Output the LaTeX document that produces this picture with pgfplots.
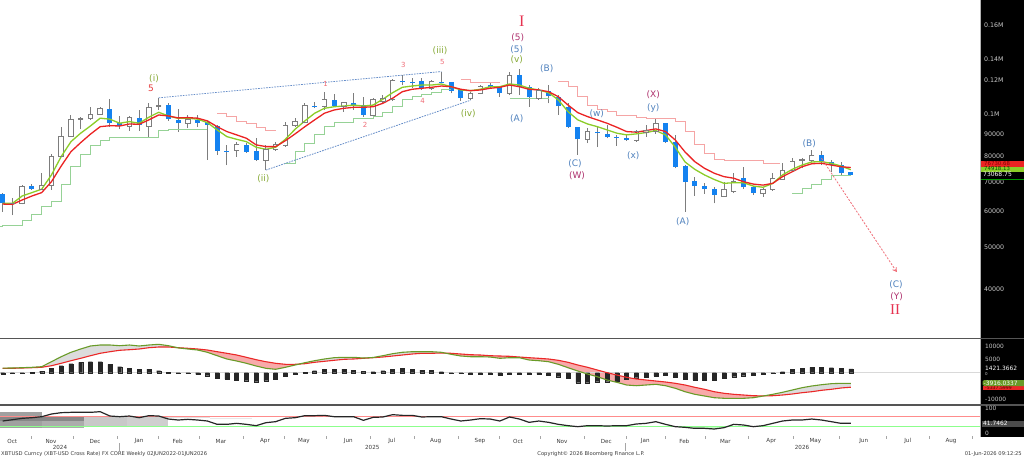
\documentclass[border=0pt]{standalone}
\usepackage{pgfplots}
\pgfplotsset{compat=1.18}
\usepackage{pgfplotstable}
\usetikzlibrary{arrows.meta}
\usepackage{fontspec}
\setmainfont{DejaVu Sans}
\newfontfamily\serifr{Liberation Serif}

\definecolor{bbblue}{RGB}{20,130,240}
\definecolor{wick}{RGB}{125,125,125}
\definecolor{magreen}{RGB}{140,205,40}
\definecolor{mared}{RGB}{235,35,35}
\definecolor{stepgreen}{RGB}{150,210,150}
\definecolor{steppink}{RGB}{245,165,165}
\definecolor{wedge}{RGB}{100,140,200}
\definecolor{lgreen}{RGB}{135,170,55}
\definecolor{lblue}{RGB}{80,130,190}
\definecolor{lmag}{RGB}{175,50,110}
\definecolor{lcrim}{RGB}{230,50,80}
\definecolor{lpink}{RGB}{240,110,120}
\definecolor{lred}{RGB}{230,60,60}
\definecolor{macdgreen}{RGB}{105,155,40}
\definecolor{macdred}{RGB}{235,40,40}
\definecolor{fillpink}{RGB}{248,170,170}
\definecolor{fillgray}{RGB}{220,220,220}
\definecolor{axtext}{RGB}{200,200,200}
\definecolor{xtext}{RGB}{60,60,60}
\definecolor{sep}{RGB}{85,85,85}
\definecolor{vp1}{RGB}{160,160,160}
\definecolor{vp2}{RGB}{135,135,135}
\definecolor{vp3}{RGB}{172,172,172}
\definecolor{vp4}{RGB}{200,200,200}
\definecolor{vp5}{RGB}{207,207,207}
\definecolor{vp6}{RGB}{225,225,225}
\definecolor{vp7}{RGB}{232,232,232}

% weekly candles, down weeks (filled blue)
\pgfplotstableread{
i O H L C
0 65850 66140 60060 62780
3 68860 69370 67400 67740
11 103300 108590 93980 95680
12 95680 99440 92740 94320
14 98570 102600 92060 94800
17 105300 106630 97040 97760
18 97400 102980 91580 95680
20 97400 99950 93980 96000
21 96520 96880 78900 94800
22 94460 94800 81000 82810
23 82810 85400 76800 82500
25 85400 86150 81840 82390
26 82810 88420 78480 78900
32 104920 106870 103520 104220
34 108200 111600 104380 104920
36 106630 112020 102600 105300
37 105300 110050 99080 99950
41 119750 123400 117000 118730
42 118920 121290 115020 118600
43 119750 121290 114000 115020
45 119110 125580 118090 118280
46 118730 119110 112020 113580
47 114000 114420 107790 109150
50 117000 118090 115020 115980
51 115980 116400 110050 112020
53 123400 127000 111000 115980
54 115620 117000 104380 109710
56 113580 117000 106290 110440
57 109710 111000 99950 104760
58 104380 106290 93220 93980
59 93700 93980 81000 87940
61 91580 93980 84340 90820
62 90480 94800 88420 88900
63 89180 90000 84940 88700
64 88420 90000 87160 87600
68 95680 96000 86410 86850
69 86850 90000 75480 76120
70 76400 76800 60060 70350
71 70730 72250 65260 68760
72 68760 69970 65960 67640
73 67640 68520 62780 65600
76 71650 76120 67640 68320
77 68320 68760 65600 66430
84 81000 82810 76800 78190
85 78190 78900 74150 76800
86 76800 78190 72900 73550
87 73930 74150 72980 73068.75
}\downt

% weekly candles, up weeks (hollow)
\pgfplotstableread{
i O H L C
1 62710 64480 59000 62880
2 62780 69100 62440 68760
4 67640 73550 67400 69100
5 69100 81420 67400 80290
6 80290 93980 79950 89520
7 89520 99950 89180 97400
8 97400 99080 92740 98270
9 97910 104380 97400 100480
10 100320 104380 99950 103300
13 94320 99440 92060 98780
15 94320 106290 89180 104060
16 104380 109400 102600 105300
19 95680 99950 93220 97400
24 83100 86850 80290 85400
27 78900 85400 74800 83420
28 83420 86850 82810 85400
29 84940 96520 84620 94800
30 94800 98270 93980 96520
31 96000 106290 95680 104920
33 104380 112620 102600 108200
35 104760 107210 101700 106630
38 99950 109150 99440 108200
39 107210 111000 106290 109150
40 108200 120650 107790 119750
44 115020 120200 114000 119110
48 109150 112980 108000 112020
49 112020 117000 111600 115980
52 112020 125580 111000 123400
55 109150 115020 108200 113580
60 87940 93220 86150 91580
65 87600 92400 86850 91580
66 91300 94800 89180 92060
67 91580 98270 90480 95680
74 65260 70350 65020 67400
75 66790 73770 66210 70350
78 66210 67980 65020 67640
79 67400 73770 67150 71650
80 71270 77510 71000 74800
81 74800 79610 74150 78190
82 78610 79610 75480 79190
83 78900 83100 78190 81000
}\upt

% moving averages (G green, R red)
\pgfplotstableread{
i G R
0 62780 62540
1 62780 62440
2 65260 63900
3 66430 65260
4 67640 66430
5 72900 70350
6 80290 76400
7 86850 82390
8 90820 86410
9 94320 90340
10 98270 93980
11 97760 94460
12 95680 94320
13 96520 95320
14 95680 95160
15 98780 97400
16 101380 99950
17 99440 99440
18 98170 98420
19 98270 98570
20 97760 98270
21 96000 96880
22 92400 93980
23 89180 91580
24 87940 90000
25 86850 88420
26 84340 85400
27 83420 84620
28 84340 84620
29 87940 87290
30 92740 90480
31 96880 93980
32 100850 97400
33 103520 100850
34 104380 102600
35 104760 103520
36 105300 104060
37 104760 104060
38 105300 104380
39 108590 106290
40 112380 109150
41 115620 112980
42 116400 114420
43 117000 115020
44 117000 115620
45 117640 116400
46 115980 115980
47 114000 114420
48 113580 113580
49 114420 114000
50 115980 115020
51 115980 115620
52 117640 117000
53 117000 115980
54 115020 114420
55 114000 114000
56 112380 112980
57 108200 110050
58 101700 105300
59 97400 101170
60 95320 99080
61 93980 97400
62 92400 95680
63 90820 93700
64 90000 91580
65 90480 91300
66 91100 92060
67 92060 92880
68 90000 91580
69 84340 87600
70 78060 82260
71 75080 78190
72 72900 75480
73 71170 73550
74 69750 72250
75 69970 71650
76 69970 70350
77 68760 69480
78 68320 69100
79 69750 69750
80 72900 72250
81 75080 74150
82 76800 76120
83 78060 77320
84 78190 77510
85 77510 76800
86 76400 76120
87 74920 75800
}\mat

% MACD (G), signal (R), histogram (H)
\pgfplotstableread{
i G R H
0 1700 1620 -368
1 1731 1620 -246
2 1842 1731 -61
3 1989 1842 123
4 2210 1989 614
5 4051 2578 1596
6 5893 3462 2579
7 7513 4420 3316
8 8729 5304 3807
9 9834 6261 4052
10 10202 7145 4052
11 10202 7734 3070
12 9944 8250 2210
13 10202 8471 1596
14 9834 8729 1351
15 10202 9208 1351
16 10460 9465 737
17 9944 9465 246
18 9150 9208 -123
19 8729 8987 -246
20 8360 8729 -614
21 7513 8360 -1105
22 6261 7734 -2088
23 5046 7145 -2456
24 4309 6519 -2702
25 3462 5672 -2947
26 2468 4788 -3316
27 1620 4051 -2947
28 1252 3462 -2456
29 1989 3094 -1228
30 2836 3094 -614
31 3683 3315 123
32 4420 3830 737
33 5046 4199 1228
34 5525 4567 1351
35 5672 4935 1351
36 5672 5046 982
37 5400 5304 614
38 5600 5525 368
39 6261 5782 737
40 6998 6151 1351
41 7513 6519 1596
42 7734 6887 1351
43 7734 7145 982
44 7734 7145 860
45 7513 7256 368
46 6777 7145 -61
47 6151 6887 -246
48 5893 6629 -491
49 5893 6519 -368
50 5782 6261 -491
51 5304 6151 -860
52 5525 6040 -491
53 5525 5782 -491
54 4677 5525 -614
55 4420 5304 -614
56 4051 5046 -860
57 3094 4567 -1474
58 1842 3830 -2088
59 626 2836 -3684
60 -479 1989 -3684
61 -1473 994 -3316
62 -2689 0 -3316
63 -3536 -847 -3070
64 -4530 -1694 -2456
65 -4788 -2320 -1842
66 -4530 -2689 -1719
67 -4272 -3057 -1228
68 -4788 -3425 -860
69 -5745 -3904 -1719
70 -6998 -4530 -2456
71 -7955 -5377 -2702
72 -8581 -6114 -2702
73 -9208 -6998 -2702
74 -9428 -7587 -2088
75 -9428 -7955 -1474
76 -9428 -8213 -1105
77 -9208 -8471 -860
78 -8600 -8560 -491
79 -7955 -8471 -246
80 -7219 -8213 368
81 -6372 -7845 1228
82 -5525 -7366 1596
83 -4898 -6998 1965
84 -4420 -6482 1965
85 -4051 -6114 1842
86 -3904 -5635 1596
87 -3916.0337 -5337.5999 1421.3662
}\macdt

% RSI
\pgfplotstableread{
i V
0 50.6
1 56
2 61.6
3 64.3
4 68.4
5 79.4
6 84.9
7 86.3
8 86.3
9 86.3
10 89
11 71.2
12 68.4
13 71.2
14 64.3
15 72.6
16 71.2
17 58.8
18 54.7
19 57.5
20 54.7
21 50.6
22 36.9
23 36.9
24 41
25 36.9
26 31.4
27 43.7
28 47.9
29 61.6
30 64.3
31 72.6
32 72.6
33 73.9
34 68.4
35 68.4
36 68.4
37 53.4
38 65.7
39 67.1
40 76.7
41 73.9
42 73.9
43 67.1
44 68.4
45 68.4
46 58.8
47 50.6
48 54.7
49 60.2
50 58.8
51 50.6
52 67.1
53 58.8
54 45.1
55 50.6
56 45.1
57 36.9
58 31.4
59 27.3
60 31.4
61 31.4
62 30
63 31.4
64 31.4
65 38.3
66 41
67 47.9
68 36.9
69 27.3
70 24.6
71 20.4
72 20.4
73 17.7
74 23.2
75 36.9
76 34.2
77 27.3
78 31.4
79 41
80 50.6
81 54.7
82 54.7
83 58.8
84 54.7
85 47.9
86 41
87 41.7462
}\rsit

\tikzset{
  ew/.style={inner sep=0pt, font=\fontsize{9}{10}\selectfont},
  nw/.style={inner sep=0pt, font=\fontsize{7}{8}\selectfont, text=lpink},
  rl/.style={inner sep=0pt, anchor=west, font=\fontsize{6.3}{7}\selectfont, text=axtext},
  rs/.style={inner sep=0pt, anchor=west, font=\fontsize{5.9}{7}\selectfont, text=axtext},
  ml/.style={inner sep=0pt, font=\fontsize{5.6}{6}\selectfont, text=xtext},
  fl/.style={inner sep=0pt, font=\fontsize{5.2}{6}\selectfont, text=xtext},
}

\begin{document}
\begin{tikzpicture}
\useasboundingbox (0pt,0pt) rectangle (1024pt,-458pt);
\fill[white] (0pt,0pt) rectangle (1024pt,-458pt);

% ---------------- price panel ----------------
\begin{axis}[at={(0pt,-338pt)}, anchor=south west, scale only axis,
  width=980pt, height=338pt, xmin=-0.277, xmax=100.26,
  ymode=log, ymin=30908, ymax=183080, hide axis]
% wicks
\addplot[draw=none, mark=none, forget plot,
  error bars/.cd, y dir=plus, y explicit, error mark=none,
  error bar style={draw=wick, line width=0.9pt}]
  table[x=i, y=L, y error plus expr=\thisrow{H}-\thisrow{L}] {\downt};
\addplot[draw=none, mark=none, forget plot,
  error bars/.cd, y dir=plus, y explicit, error mark=none,
  error bar style={draw=wick, line width=0.9pt}]
  table[x=i, y=L, y error plus expr=\thisrow{H}-\thisrow{L}] {\upt};
% down bodies
\addplot[draw=none, mark=none, forget plot,
  error bars/.cd, y dir=plus, y explicit, error mark=none,
  error bar style={draw=bbblue, line width=5pt}]
  table[x=i, y=C, y error plus expr=\thisrow{O}-\thisrow{C}] {\downt};
% up bodies (hollow)
\addplot[draw=none, mark=none, forget plot,
  error bars/.cd, y dir=plus, y explicit, error mark=none,
  error bar style={draw=wick, line width=5.4pt}]
  table[x=i, y=O, y error plus expr=\thisrow{C}-\thisrow{O}] {\upt};
\addplot[draw=none, mark=none, forget plot,
  error bars/.cd, y dir=plus, y explicit, error mark=none,
  error bar style={draw=white, line width=3.8pt}]
  table[x=i, y=O, y error plus expr=\thisrow{C}-\thisrow{O}] {\upt};
\addplot[only marks, mark=-, mark size=2.7pt, mark options={wick, line width=0.8pt}, forget plot]
  table[x=i, y=O] {\upt};
\addplot[only marks, mark=-, mark size=2.7pt, mark options={wick, line width=0.8pt}, forget plot]
  table[x=i, y=C] {\upt};
% moving averages
\addplot[magreen, line width=1.3pt, forget plot] table[x=i, y=G] {\mat};
\addplot[mared, line width=1.3pt, forget plot] table[x=i, y=R] {\mat};
% trailing steps
\addplot[const plot, stepgreen, line width=0.9pt, forget plot] coordinates {
 (-0.28,55500) (0,56000) (2,57500) (3,59320) (4,61660) (5,63320) (6,69370) (7,76400)
 (8,81000) (9,84940) (10,87600) (11,88900) (16,92060) (17,92740) (21,92740)};
\addplot[const plot, stepgreen, line width=0.9pt, forget plot] coordinates {
 (29,77510) (30,82390) (31,86150) (32,90000) (33,93980) (34,96000) (36,98270) (38,98930)
 (39,101540) (40,104760) (41,108200) (42,110050) (43,111420) (44,112380) (45,114600) (46,114600)};
\addplot[const plot, stepgreen, line width=0.9pt, forget plot] coordinates {
 (52,109150) (56,109150)};
\addplot[const plot, stepgreen, line width=0.9pt, forget plot] coordinates {
 (81,66210) (82,67740) (83,69480) (84,71170) (85,72900) (87,72900)};
\addplot[const plot, steppink, line width=0.9pt, forget plot] coordinates {
 (22,101000) (23,99080) (24,96520) (25,95680) (26,93740) (27,92060) (28,92060)};
\addplot[const plot, steppink, line width=0.9pt, forget plot] coordinates {
 (47,120650) (48,118730) (51,118730)};
\addplot[const plot, steppink, line width=0.9pt, forget plot] coordinates {
 (57,119110) (58,116400) (59,110050) (60,105030) (61,102980) (62,101700) (63,99950)
 (64,99440) (65,98780) (66,98270) (69,96520) (70,91580) (71,85400) (72,81710)
 (73,79190) (74,78610) (78,77510) (79.7,77510)};
% wedge lines
\addplot[wedge, line width=0.8pt, dash pattern=on 1.6pt off 1.1pt, forget plot]
  coordinates {(16,109400) (45,125580)};
\addplot[wedge, line width=0.8pt, dash pattern=on 1.6pt off 1.1pt, forget plot]
  coordinates {(27,74800) (48,108000)};
% projection arrow
\addplot[lpink, line width=0.8pt, dash pattern=on 2pt off 1.5pt,
  -{Straight Barb[length=3.5pt,width=4.5pt]}, forget plot]
  coordinates {(84,79610) (91.72,43740)};
\end{axis}

% ---------------- MACD panel ----------------
\begin{axis}[at={(0pt,-404pt)}, anchor=south west, scale only axis,
  width=980pt, height=66pt, xmin=-0.277, xmax=100.26,
  ymin=-11528, ymax=12780, hide axis]
% area between MACD and signal (gray: MACD above, pink: MACD below)
\addplot[fill=fillgray, draw=none, forget plot] coordinates {
 (0,1700) (1,1731) (2,1842) (3,1989) (4,2210) (5,4051) (6,5893) (7,7513) (8,8729) (9,9834)
 (10,10202) (11,10202) (12,9944) (13,10202) (14,9834) (15,10202) (16,10460) (17,9944) (17.89,9236)
 (17,9465) (16,9465) (15,9208) (14,8729) (13,8471) (12,8250) (11,7734) (10,7145) (9,6261)
 (8,5304) (7,4420) (6,3462) (5,2578) (4,1989) (3,1842) (2,1731) (1,1620) (0,1620)};
\addplot[fill=fillpink, draw=none, forget plot] coordinates {
 (17.89,9236) (18,9208) (19,8987) (20,8729) (21,8360) (22,7734) (23,7145) (24,6519) (25,5672)
 (26,4788) (27,4051) (28,3462) (29,3094) (30,3094) (30.41,3185)
 (30,2836) (29,1989) (28,1252) (27,1620) (26,2468) (25,3462) (24,4309) (23,5046) (22,6261)
 (21,7513) (20,8360) (19,8729) (18,9150)};
\addplot[fill=fillgray, draw=none, forget plot] coordinates {
 (30.41,3185) (31,3683) (32,4420) (33,5046) (34,5525) (35,5672) (36,5672) (37,5400) (38,5600)
 (39,6261) (40,6998) (41,7513) (42,7734) (43,7734) (44,7734) (45,7513) (45.41,7211)
 (45,7256) (44,7145) (43,7145) (42,6887) (41,6519) (40,6151) (39,5782) (38,5525) (37,5304)
 (36,5046) (35,4935) (34,4567) (33,4199) (32,3830) (31,3315)};
\addplot[fill=fillpink, draw=none, forget plot] coordinates {
 (45.41,7211) (46,7145) (47,6887) (48,6629) (49,6519) (50,6261) (51,6151) (52,6040) (53,5782)
 (54,5525) (55,5304) (56,5046) (57,4567) (58,3830) (59,2836) (60,1989) (61,994) (62,0)
 (63,-847) (64,-1694) (65,-2320) (66,-2689) (67,-3057) (68,-3425) (69,-3904) (70,-4530)
 (71,-5377) (72,-6114) (73,-6998) (74,-7587) (75,-7955) (76,-8213) (77,-8471) (78,-8560) (78.07,-8554)
 (78,-8600) (77,-9208) (76,-9428) (75,-9428) (74,-9428) (73,-9208) (72,-8581) (71,-7955)
 (70,-6998) (69,-5745) (68,-4788) (67,-4272) (66,-4530) (65,-4788) (64,-4530) (63,-3536)
 (62,-2689) (61,-1473) (60,-479) (59,626) (58,1842) (57,3094) (56,4051) (55,4420) (54,4677)
 (53,5525) (52,5525) (51,5304) (50,5782) (49,5893) (48,5893) (47,6151) (46,6777)};
\addplot[fill=fillgray, draw=none, forget plot] coordinates {
 (78.07,-8554) (79,-7955) (80,-7219) (81,-6372) (82,-5525) (83,-4898) (84,-4420) (85,-4051)
 (86,-3904) (87,-3916) (87,-5338) (86,-5635) (85,-6114) (84,-6482) (83,-6998) (82,-7366)
 (81,-7845) (80,-8213) (79,-8471)};
\addplot[gray!30, line width=0.8pt, forget plot] coordinates {(-0.277,0) (100.26,0)};
\addplot[ybar, bar width=4pt, fill=black!85, draw=black!85, line width=0.3pt, forget plot]
  table[x=i, y=H] {\macdt};
\addplot[macdred, line width=1.1pt, forget plot] table[x=i, y=R] {\macdt};
\addplot[macdgreen, line width=1.1pt, forget plot] table[x=i, y=G] {\macdt};
\end{axis}

% ---------------- RSI panel ----------------
\begin{axis}[at={(0pt,-434pt)}, anchor=south west, scale only axis,
  width=980pt, height=29pt, xmin=-0.277, xmax=100.26,
  ymin=-2.9, ymax=116.5, hide axis]
% price-volume profile blocks
\addplot[fill=vp1, draw=none, forget plot] coordinates {(-0.28,20.6) (4.03,20.6) (4.03,86.4) (-0.28,86.4)};
\addplot[fill=vp3, draw=none, forget plot] coordinates {(4.03,20.6) (8.34,20.6) (8.34,72.4) (4.03,72.4)};
\addplot[fill=vp2, draw=none, forget plot] coordinates {(-0.28,51.9) (8.34,51.9) (8.34,68.3) (-0.28,68.3)};
\addplot[fill=vp4, draw=none, forget plot] coordinates {(8.34,30) (12.75,30) (12.75,68.3) (8.34,68.3)};
\addplot[fill=vp5, draw=none, forget plot] coordinates {(12.75,30) (16.95,30) (16.95,72.4) (12.75,72.4)};
\addplot[fill=vp6, draw=none, forget plot] coordinates {(16.95,61.7) (21.26,61.7) (21.26,72.4) (16.95,72.4)};
\addplot[fill=vp7, draw=none, forget plot] coordinates {(21.26,57.6) (25.57,57.6) (25.57,61.7) (21.26,61.7)};
% oversold shading below 30
\addplot[fill=green!22, draw=none, forget plot] coordinates {
 (58.52,30) (59,27.3) (59.66,30)};
\addplot[fill=green!22, draw=none, forget plot] coordinates {
 (68.72,30) (69,27.3) (70,24.6) (71,20.4) (72,20.4) (73,17.7) (74,23.2) (74.5,30)};
\addplot[fill=green!22, draw=none, forget plot] coordinates {
 (76.61,30) (77,27.3) (77.66,30)};
\addplot[red!45, line width=0.7pt, forget plot] coordinates {(-0.277,70) (100.26,70)};
\addplot[green!45, line width=0.7pt, forget plot] coordinates {(-0.277,30) (100.26,30)};
\addplot[black!85, line width=1.2pt, forget plot] table[x=i, y=V] {\rsit};
\end{axis}

% ---------------- frame, right scale, texts ----------------
\begin{scope}[x=1pt, y=-1pt]
\fill[black] (980,0) rectangle (1024,437);
\draw[gray!60, line width=0.5pt] (980,0) -- (980,437);
\draw[sep, line width=1.6pt] (0,338.5) -- (1024,338.5);
\draw[sep, line width=1.6pt] (0,404.8) -- (1024,404.8);

% price scale
\node[rl] at (984,25.7) {0.16M};
\node[rl] at (984,59.3) {0.14M};
\node[rl] at (984,80.7) {0.12M};
\node[rl] at (984,114) {0.1M};
\node[rl] at (984,134) {90000};
\node[rl] at (984,156) {80000};
\node[rl] at (984,182.5) {70000};
\node[rl] at (984,211) {60000};
\node[rl] at (984,247) {50000};
\node[rl] at (984,289) {40000};
\fill[mared] (981,161) rectangle (1024,166.5);
\node[inner sep=0pt, anchor=west, font=\fontsize{5.4}{6}\selectfont, text=red!50!black] at (984,163.8) {76730.68};
\fill[magreen] (981,166.5) rectangle (1024,171.5);
\node[inner sep=0pt, anchor=west, font=\fontsize{5.4}{6}\selectfont, text=green!30!black] at (984,169) {74918.13};
\node[inner sep=0pt, anchor=west, font=\fontsize{6}{7}\selectfont, text=white] at (983,174.3) {73068.75};
\draw[green!60!black, line width=0.6pt] (981,179) -- (1024,179);

% MACD scale
\node[rs] at (985,346) {10000};
\node[rs] at (985,359.3) {5000};
\node[rs, text=white] at (985,368.3) {1421.3662};
\node[rs, font=\fontsize{4}{5}\selectfont] at (985,374.3) {0};
\fill[macdred] (982.5,385.5) rectangle (1024,389.5);
\node[inner sep=0pt, anchor=west, font=\fontsize{4.6}{5}\selectfont, text=red!35!black] at (985,388) {-5337.5999};
\fill[macdgreen, rounded corners=1.5pt] (982.5,380) rectangle (1026,386);
\node[inner sep=0pt, anchor=west, font=\fontsize{5.9}{7}\selectfont, text=white] at (983.5,383) {-3916.0337};
\node[rs] at (985,399.3) {-10000};

% RSI scale
\node[rs] at (985,408.7) {100};
\fill[black!70] (982,421) rectangle (1024,426.7);
\node[inner sep=0pt, anchor=west, font=\fontsize{5.9}{7}\selectfont, text=white] at (983,423.7) {41.7462};
\node[rs] at (985,433.3) {0};

% x axis: month ticks and labels
\foreach \t in {31.6,73,117,158,199,243,284.5,326,370,413.7,458,499,540,584,626,665,705,748,793,839.5,886,929,972}
  \draw[gray!70, line width=0.4pt] (\t,436.3) -- (\t,439);
\node[ml] at (12.3,441) {Oct};
\node[ml] at (51,441) {Nov};
\node[ml] at (95,441) {Dec};
\node[ml] at (139,441) {Jan};
\node[ml] at (177.7,441) {Feb};
\node[ml] at (221,441) {Mar};
\node[ml] at (265,441) {Apr};
\node[ml] at (304,441) {May};
\node[ml] at (348.3,441) {Jun};
\node[ml] at (391.7,441) {Jul};
\node[ml] at (435.7,441) {Aug};
\node[ml] at (480,441) {Sep};
\node[ml] at (518,441) {Oct};
\node[ml] at (562,441) {Nov};
\node[ml] at (606.3,441) {Dec};
\node[ml] at (645.3,441) {Jan};
\node[ml] at (684.3,441) {Feb};
\node[ml] at (725.3,441) {Mar};
\node[ml] at (771.3,441) {Apr};
\node[ml] at (815.3,441) {May};
\node[ml] at (863.7,441) {Jun};
\node[ml] at (907.7,441) {Jul};
\node[ml] at (951,441) {Aug};
\node[ml] at (60,447.6) {2024};
\node[ml] at (372.3,447.6) {2025};
\node[ml] at (802,447.6) {2026};
\draw[gray!70, line width=0.5pt] (119.7,443) -- (119.7,451);
\draw[gray!70, line width=0.5pt] (625.3,443) -- (625.3,451);

% footer
\node[fl, anchor=west] at (1,454.3) {XBTUSD Curncy (XBT-USD Cross Rate) FX CORE Weekly 02JUN2022-01JUN2026};
\node[fl] at (591,454.3) {Copyright© 2026 Bloomberg Finance L.P.};
\node[fl, anchor=east] at (1022,454.3) {01-Jun-2026 09:12:25};

% wave labels
\node[ew, text=lgreen] at (154,78.3) {(i)};
\node[ew, text=lred] at (151,88.3) {5};
\node[ew, text=lgreen] at (263.3,179) {(ii)};
\node[nw] at (325.7,84.3) {1};
\node[nw] at (365,125) {2};
\node[nw] at (403.3,65) {3};
\node[nw] at (422.7,101) {4};
\node[nw] at (442.3,61.7) {5};
\node[ew, text=lgreen] at (440,50.7) {(iii)};
\node[ew, text=lgreen] at (468.3,113.3) {(iv)};
\node[inner sep=0pt, text=lcrim, font=\serifr\fontsize{16}{17}\selectfont] at (521.7,21.7) {I};
\node[ew, text=lmag] at (517.7,37.7) {(5)};
\node[ew, text=lblue] at (516.7,49.3) {(5)};
\node[ew, text=lgreen] at (516.7,60) {(v)};
\node[ew, text=lblue] at (546.7,68.3) {(B)};
\node[ew, text=lblue] at (516.7,118.3) {(A)};
\node[ew, text=lblue] at (575,163.3) {(C)};
\node[ew, text=lmag] at (577,176) {(W)};
\node[ew, text=lblue] at (596.7,114) {(w)};
\node[ew, text=lblue] at (633.3,156) {(x)};
\node[ew, text=lmag] at (653.3,95) {(X)};
\node[ew, text=lblue] at (653.3,108.3) {(y)};
\node[ew, text=lblue] at (682.7,221.7) {(A)};
\node[ew, text=lblue] at (809.3,143.3) {(B)};
\node[ew, text=lblue] at (896,285) {(C)};
\node[ew, text=lmag] at (896.7,296.7) {(Y)};
\node[inner sep=0pt, text=lcrim, font=\serifr\fontsize{15}{16}\selectfont] at (895,310) {II};
\end{scope}
\end{tikzpicture}
\end{document}
